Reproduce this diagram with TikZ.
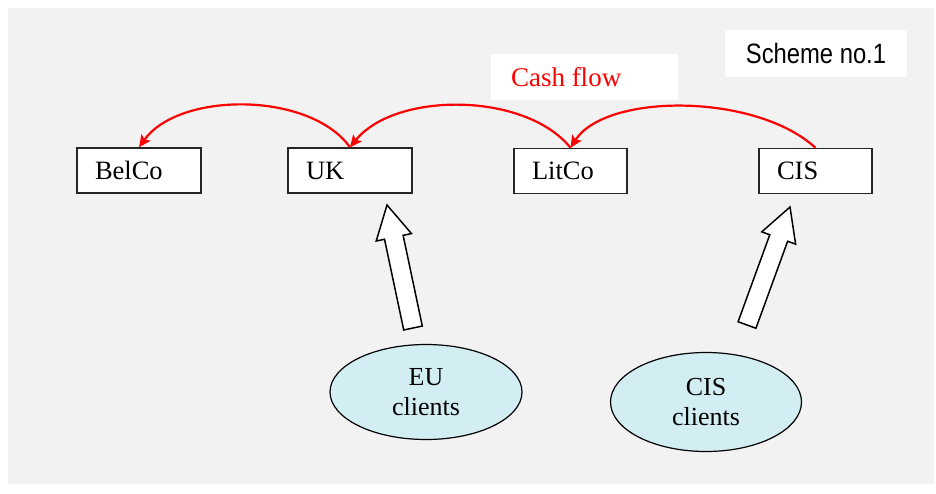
\documentclass[tikz,border=0pt]{standalone}
\usepackage{fontspec}
\setmainfont{Liberation Serif}
\newfontfamily\narrowsans[FakeStretch=0.85]{Liberation Sans}
\usetikzlibrary{arrows.meta,calc,shapes.geometric}

\definecolor{bggray}{RGB}{242,242,242}
\definecolor{clientfill}{RGB}{210,238,242}
\definecolor{flowred}{RGB}{255,0,0}

\tikzset{
  company/.style={draw=black!85, line width=1.4pt, fill=white, rectangle,
    minimum height=45pt, inner xsep=18pt, inner ysep=0pt,
    font=\fontsize{26.5}{30}\selectfont},
  clients/.style={draw=black, line width=1.2pt, fill=clientfill, ellipse,
    inner sep=0pt, align=center, font=\fontsize{26}{30}\selectfont},
  labelbox/.style={fill=white, rectangle, inner sep=0pt},
  flow/.style={draw=flowred, line width=2.2pt,
    -{Stealth[length=12pt,width=11pt,inset=2.5pt]}},
  blockarrow/.style={draw=black, line width=1.5pt, fill=white, line join=miter}
}

% left-aligned company label of a given width
\newcommand{\co}[2]{\makebox[#1][l]{#2}}

% block arrow from tail #1 to tip #2
\newcommand{\blockarrow}[2]{%
  \path ($(#2)!33pt!(#1)$) coordinate (hb);
  \draw[blockarrow]
    ($(#1)!9.5pt!90:(#2)$) --
    ($(hb)!9.5pt!-90:(#1)$) --
    ($(hb)!18pt!-90:(#1)$) --
    (#2) --
    ($(hb)!18pt!90:(#1)$) --
    ($(hb)!9.5pt!90:(#1)$) --
    ($(#1)!9.5pt!-90:(#2)$) -- cycle;
}

\begin{document}
\begin{tikzpicture}[x=1pt,y=-1pt]
  \useasboundingbox (0,0) rectangle (936,493);
  \fill[bggray] (8,8) rectangle (934,484);

  % title and legend
  \node[labelbox, minimum width=182pt, minimum height=47pt,
        font=\narrowsans\fontsize{28}{30}\selectfont] (scheme) at (816,53.5) {Scheme no.1};
  \node[labelbox, minimum width=187pt, minimum height=46pt,
        inner xsep=20pt, text=flowred,
        font=\fontsize{27}{30}\selectfont] (cash) at (584.5,77) {\co{147pt}{Cash flow}};

  % companies
  \node[company] (belco) at (139,170.5) {\co{88pt}{BelCo}};
  \node[company] (uk)    at (350,170.5) {\co{88pt}{UK}};
  \node[company] (litco) at (570.5,171) {\co{77pt}{LitCo}};
  \node[company] (cis)   at (815.5,171) {\co{77pt}{CIS}};

  % clients
  \node[clients, minimum width=192pt, minimum height=95pt] (eu) at (426,392) {EU\\clients};
  \node[clients, minimum width=191pt, minimum height=99pt] (cisc) at (706,402) {CIS\\clients};

  % cash flow
  \draw[flow] (uk.north) .. controls +(-40,-56) and +(40,-56) .. (belco.north);
  \draw[flow] (litco.north) .. controls +(-45,-56) and +(45,-56) .. (uk.north);
  \draw[flow] (cis.north) .. controls +(-60,-55) and +(35,-55) .. (litco.north);

  % client flows
  \coordinate (eutail) at (413,328);
  \coordinate (eutip) at (387,205);
  \coordinate (cistail) at (747,325);
  \coordinate (cistip) at (790,207);
  \blockarrow{eutail}{eutip}
  \blockarrow{cistail}{cistip}
\end{tikzpicture}
\end{document}
